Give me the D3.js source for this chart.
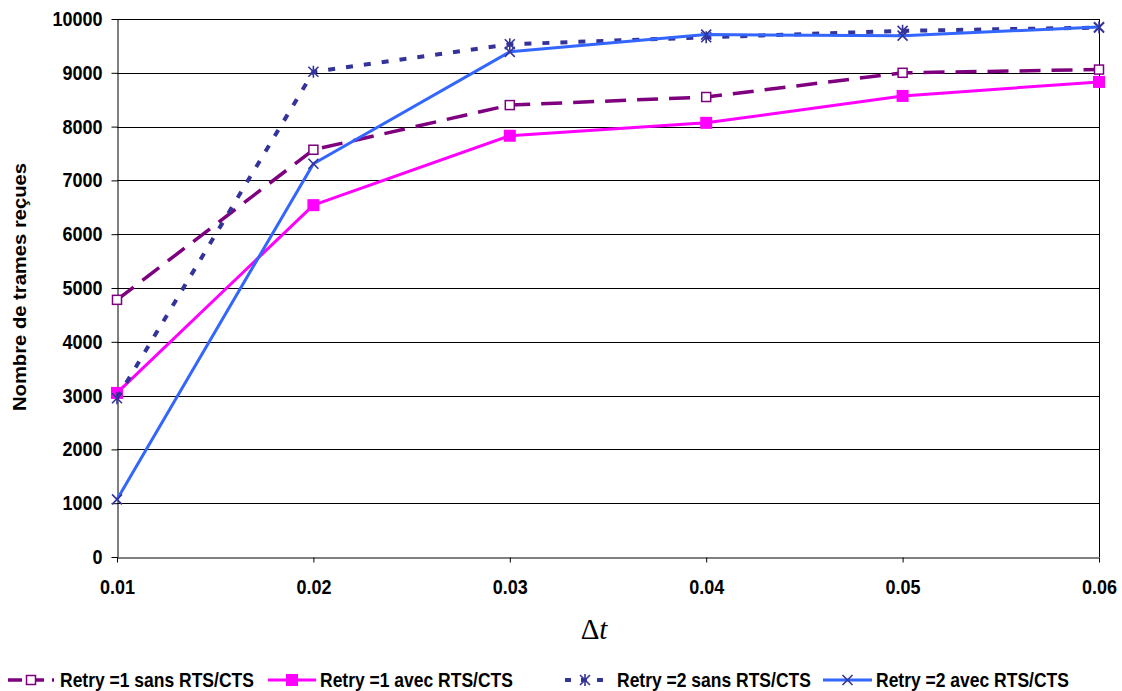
<!DOCTYPE html>
<html>
<head>
<meta charset="utf-8">
<script src="https://cdn.jsdelivr.net/npm/d3@7"></script>
<style>
  html, body { margin: 0; padding: 0; background: #fff; }
  svg { display: block; }
  text { font-family: "Liberation Sans", Arial, sans-serif; font-weight: bold; fill: #000; }
</style>
</head>
<body>
<svg id="chart" width="1122" height="691"></svg>
<script>
// ---- data ----
const xValues = [0.01, 0.02, 0.03, 0.04, 0.05, 0.06];
const xTickLabels = ["0.01", "0.02", "0.03", "0.04", "0.05", "0.06"];
const yTickValues = [0, 1000, 2000, 3000, 4000, 5000, 6000, 7000, 8000, 9000, 10000];
const retry1Sans = [4780, 7570, 8400, 8550, 9000, 9060];
const retry1Avec = [3050, 6540, 7830, 8070, 8570, 8830];
const retry2Sans = [2950, 9020, 9530, 9660, 9780, 9840];
const retry2Avec = [1070, 7310, 9390, 9710, 9690, 9850];
const seriesNames = ["Retry =1 sans RTS/CTS", "Retry =1 avec RTS/CTS", "Retry =2 sans RTS/CTS", "Retry =2 avec RTS/CTS"];
const yTitle = "Nombre de trames reçues";

(function () {
// ---- styles ----
const styles = [
  { color: "#7F007F", width: 3.5, dash: "21,11", marker: "openSquare", mcolor: "#7F007F" },
  { color: "#FF00FF", width: 3, dash: null, marker: "filledSquare", mcolor: "#FF00FF" },
  { color: "#333399", width: 4, dash: "7,11", marker: "star", mcolor: "#333399" },
  { color: "#3366FF", width: 3, dash: null, marker: "cross", mcolor: "#333399" }
];
const seriesData = [retry1Sans, retry1Avec, retry2Sans, retry2Avec];
const stretch = 1.12;

const svg = d3.select("#chart");
const pLeft = 117, pRight = 1099, pTop = 19, pBottom = 557;
const x = d3.scaleLinear().domain([0.01, 0.06]).range([pLeft, pRight]);
const y = d3.scaleLinear().domain([0, 10000]).range([pBottom, pTop]);

// gridlines
svg.append("g").selectAll("line").data(yTickValues.filter(v => v > 0)).join("line")
  .attr("x1", pLeft).attr("x2", pRight)
  .attr("y1", d => Math.round(y(d)) + 0.5).attr("y2", d => Math.round(y(d)) + 0.5)
  .attr("stroke", "#000").attr("stroke-width", 1);
// right border
svg.append("line").attr("x1", pRight + 0.5).attr("x2", pRight + 0.5)
  .attr("y1", pTop).attr("y2", pBottom).attr("stroke", "#000");

// axes
const yAxis = svg.append("g").attr("transform", `translate(${pLeft + 0.5},0)`)
  .call(d3.axisLeft(y).tickValues(yTickValues).tickFormat(d3.format("d")).tickSize(6).tickSizeOuter(0).tickPadding(9));
yAxis.attr("font-family", null).attr("font-size", null);
yAxis.selectAll("text").style("font-size", "18px").attr("transform", `scale(1,${stretch})`);
yAxis.selectAll("path,line").attr("stroke", "#000");

const xAxis = svg.append("g").attr("transform", `translate(0,${pBottom + 0.5})`)
  .call(d3.axisBottom(x).tickValues(xValues).tickFormat((d, i) => xTickLabels[i]).tickSize(5).tickSizeOuter(0));
xAxis.attr("font-family", null).attr("font-size", null);
xAxis.selectAll("text").style("font-size", "18px").attr("y", 0).attr("dy", 0)
  .attr("transform", `translate(0,36) scale(1,${stretch})`);
xAxis.selectAll("path,line").attr("stroke", "#000");

// y title
svg.append("text")
  .attr("transform", "translate(26,287) rotate(-90)")
  .attr("text-anchor", "middle")
  .attr("textLength", 248).attr("lengthAdjust", "spacingAndGlyphs")
  .style("font-size", "18.5px")
  .text(yTitle);

// x title Δt
const xt = svg.append("text").attr("x", 594).attr("y", 639).attr("text-anchor", "middle")
  .style("font-family", "Liberation Serif, 'Times New Roman', serif").style("font-weight", "normal").style("font-size", "29px");
xt.append("tspan").text("Δ");
xt.append("tspan").style("font-style", "italic").text("t");

// marker drawing
function drawMarker(g, type, color, cx, cy) {
  if (type === "openSquare") {
    g.append("rect").attr("x", cx - 4.5).attr("y", cy - 4.5).attr("width", 9).attr("height", 9)
      .attr("fill", "#fff").attr("stroke", color).attr("stroke-width", 1.5);
  } else if (type === "filledSquare") {
    g.append("rect").attr("x", cx - 6).attr("y", cy - 6).attr("width", 12).attr("height", 12)
      .attr("fill", color);
  } else if (type === "cross" || type === "star") {
    const s = 5;
    g.append("path").attr("d", `M${cx - s},${cy - s}L${cx + s},${cy + s}M${cx - s},${cy + s}L${cx + s},${cy - s}` +
      (type === "star" ? `M${cx},${cy - s - 1}L${cx},${cy + s + 1}` : ""))
      .attr("stroke", color).attr("stroke-width", 1.6).attr("fill", "none");
  }
}

const line = d3.line().x((d, i) => x(xValues[i])).y(d => y(d));
seriesData.forEach((vals, k) => {
  const st = styles[k];
  const g = svg.append("g");
  g.append("path").datum(vals).attr("d", line)
    .attr("fill", "none").attr("stroke", st.color).attr("stroke-width", st.width)
    .attr("stroke-dasharray", st.dash).attr("stroke-linejoin", "round");
  vals.forEach((v, i) => drawMarker(g, st.marker, st.mcolor, x(xValues[i]), y(v)));
});

// legend
const legendItems = [
  { x1: 8, x2: 54, tx: 60 },
  { x1: 268, x2: 316, tx: 320 },
  { x1: 565, x2: 605, tx: 617 },
  { x1: 823, x2: 872, tx: 876 }
];
const ly = 680;
legendItems.forEach((it, k) => {
  const st = styles[k];
  const g = svg.append("g");
  let dash = st.dash;
  if (k === 0) dash = "14,8";
  if (k === 2) dash = "6,10";
  g.append("line").attr("x1", it.x1).attr("x2", it.x2).attr("y1", ly).attr("y2", ly)
    .attr("stroke", st.color).attr("stroke-width", st.width).attr("stroke-dasharray", dash);
  drawMarker(g, st.marker, st.mcolor, (it.x1 + it.x2) / 2, ly);
  g.append("text").attr("transform", `translate(${it.tx},${ly + 7}) scale(1,${stretch})`)
    .style("font-size", "17.5px").text(seriesNames[k]);
});
})();
</script>
</body>
</html>
